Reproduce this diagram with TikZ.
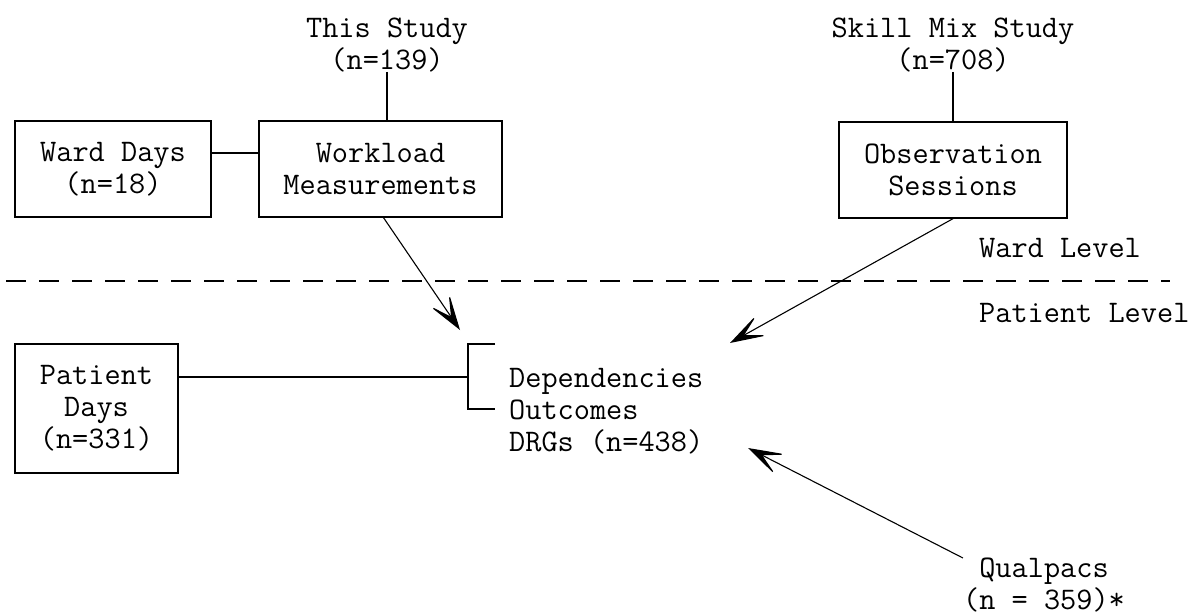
\documentclass[tikz,border=0pt]{standalone}
\usepackage{fontspec}
\usetikzlibrary{arrows.meta,positioning}
\tikzset{
    box/.style={draw,line width=1.3pt,inner sep=0pt,align=center},
    link/.style={line width=1.1pt},
    arr/.style={-{Stealth[length=38pt,width=24pt,inset=22pt]},line width=1.1pt},
    level line/.style={line width=1.2pt,dash pattern=on 20pt off 13pt},
    plain text/.style={inner sep=0pt},
}
\tikzstyle{every node}=[font=\ttfamily\fontsize{31.4}{32}\selectfont]

\begin{document}
\begin{tikzpicture}[x=1pt,y=-1pt]
    \useasboundingbox (0,0) rectangle (1195,615);
    % ward level
    \node[plain text,align=center,anchor=south] (study) at (387,72) {This Study\\(n=139)};
    \node[plain text,align=center,anchor=south] (skill) at (953,72) {Skill Mix Study\\(n=708)};
    \node[box,minimum width=196pt,minimum height=96pt] (ward) at (113,169) {Ward Days\\(n=18)};
    \node[box,minimum width=243pt,minimum height=96pt] (work) at (380.5,169) {Workload\\Measurements};
    \node[box,minimum width=228pt,minimum height=96pt] (obs) at (953,170) {Observation\\Sessions};
    \node[plain text,anchor=base west] (wardlevel) at (979,258) {Ward Level};
    \node[plain text,anchor=base west] (patientlevel) at (979,322) {Patient Level};
    % patient level
    \node[box,minimum width=163pt,minimum height=129pt] (patient) at (96.5,408.5) {Patient\\Days\\(n=331)};
    \node[plain text,align=left,anchor=west] (dep) at (509,411) {Dependencies\\Outcomes\\DRGs (n=438)};
    \node[plain text,align=center,anchor=north] (qual) at (1044,558) {Qualpacs\\(n = 359)*};

    \coordinate (brk) at (468,377);
    \coordinate (tipW) at (460,330);
    \coordinate (tipO) at (730,343);
    \coordinate (tipQ) at (748,448);

    \draw[level line] (6,281) -- (1170,281);
    \draw[link] (study.south) -- (study.south |- work.north);
    \draw[link] (skill.south) -- (obs.north);
    \draw[link] ([yshift=16pt]ward.east) -- ([yshift=16pt]work.west);
    \draw[link] ([yshift=31.5pt]patient.east) -- (brk);
    \draw[link] (495,344) -- (468,344) -- (468,409) -- (495,409);
    \draw[arr] ([xshift=3pt]work.south) -- (tipW);
    \draw[arr] (obs.south) -- (tipO);
    \draw[arr] (qual.north west) -- (tipQ);
\end{tikzpicture}
\end{document}
